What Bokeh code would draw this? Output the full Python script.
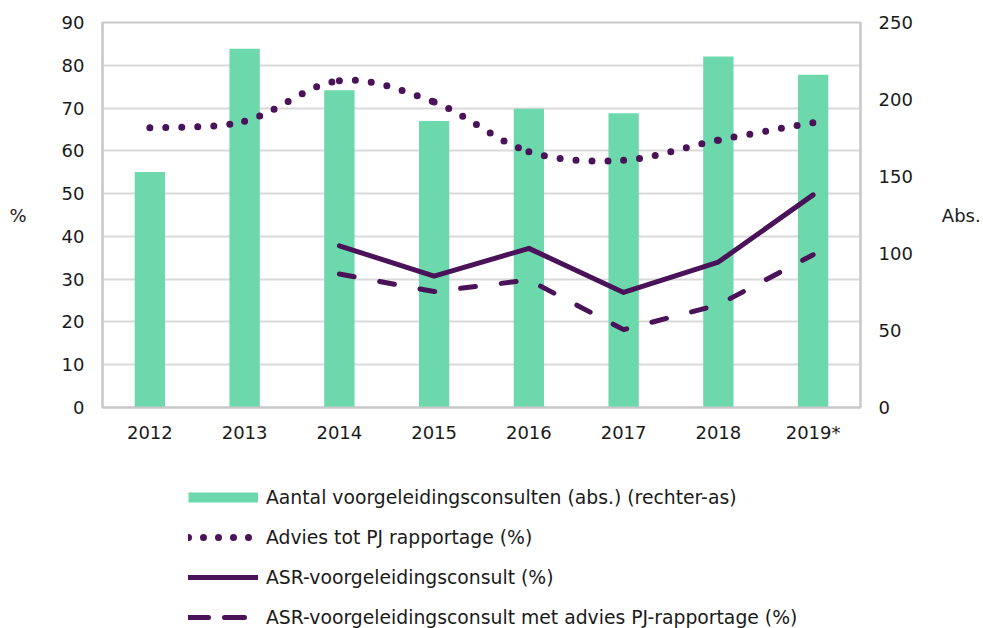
import math
from bokeh.plotting import figure
from bokeh.layouts import column
from bokeh.models import (Range1d, LinearAxis, FixedTicker, Legend, LegendItem)
from bokeh.embed import file_html
from bokeh.resources import INLINE

# ---- data ----
years = ["2012", "2013", "2014", "2015", "2016", "2017", "2018", "2019*"]
consults_abs = [153, 233, 206, 186, 194, 191, 228, 216]          # right axis
advies_pj = [65.4, 66.9, 76.4, 71.4, 59.8, 57.8, 62.5, 66.6]       # %
asr = [math.nan, math.nan, 37.8, 30.7, 37.2, 26.9, 34.0, 49.7]     # %
asr_pj = [math.nan, math.nan, 31.2, 27.1, 29.8, 18.2, 24.0, 35.7]  # %
left_ticks = [0, 10, 20, 30, 40, 50, 60, 70, 80, 90]
right_ticks = [0, 50, 100, 150, 200, 250]

labels = ["Aantal voorgeleidingsconsulten (abs.) (rechter-as)",
          "Advies tot PJ rapportage (%)",
          "ASR-voorgeleidingsconsult (%)",
          "ASR-voorgeleidingsconsult met advies PJ-rapportage (%)"]

GREEN = "#6ED8AD"
PURPLE = "#4A1259"
TEXT = "#1A1A1A"
FONT = "DejaVu Sans"
FS = "18px"

xs = list(range(len(years)))

p = figure(width=983, height=445, output_backend="svg", toolbar_location=None,
           x_range=Range1d(-0.5, len(years) - 0.5), y_range=Range1d(0, 90),
           min_border_left=102, min_border_right=123, min_border_top=22,
           min_border_bottom=37)
p.extra_y_ranges = {"abs": Range1d(0, 250)}
p.outline_line_color = "#C8C8C8"
p.outline_line_width = 2
p.background_fill_color = "white"
p.border_fill_color = "white"

# grid
p.xgrid.visible = False
p.ygrid.ticker = FixedTicker(ticks=left_ticks)
p.ygrid.grid_line_color = "#D9D9D9"
p.ygrid.grid_line_width = 2

# axes
p.xaxis.ticker = FixedTicker(ticks=xs)
p.xaxis.major_label_overrides = {i: y for i, y in enumerate(years)}
p.yaxis.ticker = FixedTicker(ticks=left_ticks)
p.yaxis.axis_label = "%"
p.yaxis.axis_label_orientation = "horizontal"
p.yaxis.axis_label_standoff = 32

right = LinearAxis(y_range_name="abs", ticker=FixedTicker(ticks=right_ticks),
                   axis_label="Abs.", axis_label_orientation="horizontal",
                   axis_label_standoff=26)
p.add_layout(right, "right")

for ax in [p.xaxis[0], p.yaxis[0], right]:
    ax.axis_line_color = "#C8C8C8"
    ax.axis_line_width = 2
    ax.major_tick_line_color = None
    ax.minor_tick_line_color = None
    ax.major_tick_out = 0
    ax.major_tick_in = 0
    ax.major_label_text_font = FONT
    ax.major_label_text_font_size = FS
    ax.major_label_text_color = TEXT
    ax.axis_label_text_font = FONT
    ax.axis_label_text_font_size = FS
    ax.axis_label_text_font_style = "normal"
    ax.axis_label_text_color = TEXT
p.xaxis.major_label_standoff = 14
p.yaxis.major_label_standoff = 18
right.major_label_standoff = 18

# bars
p.vbar(x=xs, top=consults_abs, width=0.32, fill_color=GREEN, line_color=None,
       y_range_name="abs")

# smoothed dotted curve (Bezier segments through the data points)
n = len(xs)
x0s, y0s, x1s, y1s, cx0, cy0, cx1, cy1 = ([] for _ in range(8))
for i in range(n - 1):
    a = max(i - 1, 0)
    d = min(i + 2, n - 1)
    x0s.append(xs[i]); y0s.append(advies_pj[i])
    x1s.append(xs[i + 1]); y1s.append(advies_pj[i + 1])
    cx0.append(xs[i] + (xs[i + 1] - xs[a]) / 6)
    cy0.append(advies_pj[i] + (advies_pj[i + 1] - advies_pj[a]) / 6)
    cx1.append(xs[i + 1] - (xs[d] - xs[i]) / 6)
    cy1.append(advies_pj[i + 1] - (advies_pj[d] - advies_pj[i]) / 6)
p.bezier(x0=x0s, y0=y0s, x1=x1s, y1=y1s, cx0=cx0, cy0=cy0, cx1=cx1, cy1=cy1,
         line_color=PURPLE, line_width=7, line_dash="0 16", line_cap="round")

p.line(xs, asr, line_color=PURPLE, line_width=5, line_cap="round",
       line_join="round")
p.line(xs, asr_pj, line_color=PURPLE, line_width=5, line_dash="15 26",
       line_cap="round", line_join="round")

# ---- legend figure (its frame is aligned with the chart frame) ----
lg = figure(width=983, height=183, output_backend="svg", toolbar_location=None,
            x_axis_type=None, y_axis_type=None,
            x_range=Range1d(0, 1), y_range=Range1d(0, 1),
            min_border_left=102, min_border_right=123, min_border_top=0,
            min_border_bottom=0)
lg.outline_line_color = None
lg.xgrid.visible = False
lg.ygrid.visible = False
lg.border_fill_color = "white"
lg.background_fill_color = "white"

# key renderers sit outside the visible range; they only feed the legend
kx, ky = [5, 6], [5, 5]
k_bar = lg.line(kx, ky, line_color=GREEN, line_width=10, line_cap="butt")
k_dot = lg.line(kx, ky, line_color=PURPLE, line_width=7, line_dash="0 15",
                line_cap="round")
k_sol = lg.line(kx, ky, line_color=PURPLE, line_width=5, line_cap="round")
k_dash = lg.line(kx, ky, line_color=PURPLE, line_width=5, line_dash="20 16",
                 line_cap="round")

legend = Legend(items=[LegendItem(label=labels[0], renderers=[k_bar]),
                       LegendItem(label=labels[1], renderers=[k_dot]),
                       LegendItem(label=labels[2], renderers=[k_sol]),
                       LegendItem(label=labels[3], renderers=[k_dash])],
                location=(86, 0), orientation="vertical",
                background_fill_alpha=0, border_line_color=None,
                padding=0, margin=0, spacing=18, glyph_width=70,
                glyph_height=22, label_height=22, label_standoff=8,
                label_text_font=FONT, label_text_font_size="18.8px",
                label_text_color=TEXT)
lg.add_layout(legend)

page = column(p, lg, spacing=0)
open("out.html", "w").write(file_html(page, INLINE))
